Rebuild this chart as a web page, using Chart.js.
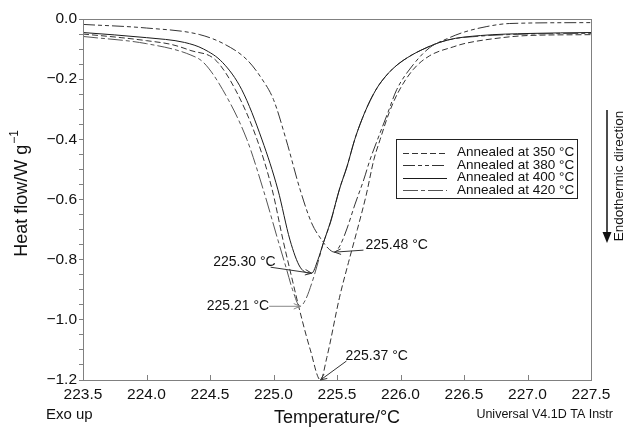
<!DOCTYPE html>
<html>
<head>
<meta charset="utf-8">
<script src="https://cdn.jsdelivr.net/npm/chart.js@4.4.1/dist/chart.umd.min.js"></script>
<style>
  html, body { margin: 0; padding: 0; background: #fff; }
  canvas { display: block; }
</style>
</head>
<body>
<canvas id="dscChart" width="627" height="429"></canvas>
<script>
// temperature (°C) and heat flow (W/g)
const t350 = [223.5, 223.8, 224.0, 224.2, 224.35, 224.54, 224.7, 224.87, 224.99, 225.075, 225.13, 225.225, 225.29, 225.37, 225.42, 225.52, 225.59, 225.66, 225.73, 225.79, 225.84, 225.91, 225.98, 226.1, 226.23, 226.42, 226.5, 226.8, 227.0, 227.5];
const hf350 = [-0.05, -0.062, -0.072, -0.085, -0.105, -0.135, -0.235, -0.40, -0.568, -0.735, -0.835, -1.0, -1.10, -1.20, -1.125, -0.925, -0.81, -0.70, -0.585, -0.468, -0.40, -0.312, -0.245, -0.168, -0.122, -0.092, -0.082, -0.062, -0.055, -0.052];

const t380 = [223.5, 224.0, 224.42, 224.62, 224.79, 224.91, 225.0, 225.1, 225.21, 225.3, 225.38, 225.43, 225.48, 225.525, 225.58, 225.64, 225.71, 225.76, 225.82, 225.9, 225.97, 226.1, 226.23, 226.37, 226.49, 226.68, 226.86, 227.5];
const hf380 = [-0.018, -0.03, -0.052, -0.085, -0.135, -0.20, -0.268, -0.402, -0.568, -0.678, -0.735, -0.762, -0.775, -0.752, -0.695, -0.618, -0.535, -0.468, -0.40, -0.312, -0.235, -0.152, -0.095, -0.065, -0.045, -0.025, -0.015, -0.012];

const t400 = [223.5, 224.0, 224.3, 224.45, 224.6, 224.75, 224.91, 225.035, 225.13, 225.21, 225.30, 225.35, 225.39, 225.45, 225.52, 225.58, 225.64, 225.70, 225.76, 225.82, 225.88, 225.94, 226.02, 226.16, 226.37, 226.63, 227.02, 227.5];
const hf400 = [-0.045, -0.062, -0.078, -0.10, -0.145, -0.235, -0.402, -0.568, -0.735, -0.825, -0.845, -0.80, -0.748, -0.672, -0.565, -0.489, -0.40, -0.33, -0.272, -0.226, -0.192, -0.165, -0.138, -0.104, -0.07, -0.055, -0.048, -0.045];

const t420 = [223.5, 224.0, 224.35, 224.45, 224.6, 224.79, 224.92, 225.035, 225.105, 225.15, 225.21, 225.25, 225.30, 225.35, 225.39, 225.45, 225.52, 225.58, 225.64, 225.70, 225.76, 225.82, 225.88, 225.94, 226.02, 226.16, 226.37, 226.63, 227.02, 227.5];
const hf420 = [-0.058, -0.082, -0.12, -0.145, -0.235, -0.40, -0.568, -0.735, -0.835, -0.90, -0.955, -0.935, -0.88, -0.81, -0.748, -0.675, -0.565, -0.489, -0.40, -0.33, -0.272, -0.226, -0.192, -0.165, -0.138, -0.104, -0.07, -0.057, -0.05, -0.048];

const seriesNames = ['Annealed at 350 °C', 'Annealed at 380 °C', 'Annealed at 400 °C', 'Annealed at 420 °C'];

// peak annotations
const peakLabels = ['225.48 °C', '225.30 °C', '225.21 °C', '225.37 °C'];
const peakT = [225.48, 225.30, 225.21, 225.37];
const peakHF = [-0.775, -0.845, -0.955, -1.2];

const FONT = "'Liberation Sans', Arial, Helvetica, sans-serif";
Chart.defaults.font.family = FONT;

function pts(xs, ys) {
  return xs.map((x, i) => ({ x: x, y: ys[i] }));
}

function line(label, xs, ys, color, dash) {
  return {
    label: label,
    data: pts(xs, ys),
    borderColor: color,
    borderWidth: 1,
    borderDash: dash,
    pointRadius: 0,
    fill: false,
    cubicInterpolationMode: 'monotone'
  };
}

function arrowHead(ctx, x1, y1, x2, y2, len) {
  const a = Math.atan2(y2 - y1, x2 - x1);
  ctx.beginPath();
  ctx.moveTo(x2 - len * Math.cos(a - 0.4), y2 - len * Math.sin(a - 0.4));
  ctx.lineTo(x2, y2);
  ctx.lineTo(x2 - len * Math.cos(a + 0.4), y2 - len * Math.sin(a + 0.4));
  ctx.stroke();
}

// pixel offsets of arrow tail and label relative to each peak
const annoLayout = [
  { tail: [29, -2], text: [31, -7], align: 'left', color: '#333' },
  { tail: [-41, -6], text: [-36, -11], align: 'right', color: '#333' },
  { tail: [-31, 0], text: [-31, 0], align: 'right', color: '#888' },
  { tail: [26, -19], text: [25, -24], align: 'left', color: '#333' }
];

const decor = {
  id: 'decor',
  afterDraw(chart) {
    const ctx = chart.ctx;
    const a = chart.chartArea;
    const xs = chart.scales.x;
    const ys = chart.scales.y;
    ctx.save();

    // frame
    ctx.strokeStyle = '#808080';
    ctx.lineWidth = 1;
    ctx.strokeRect(Math.round(a.left) + 0.5, Math.round(a.top) + 0.5, Math.round(a.right - a.left), Math.round(a.bottom - a.top));

    // inward x ticks
    ctx.beginPath();
    xs.ticks.forEach(t => {
      const px = Math.round(xs.getPixelForValue(t.value)) + 0.5;
      ctx.moveTo(px, a.bottom);
      ctx.lineTo(px, a.bottom - 5);
    });
    ctx.stroke();

    ctx.fillStyle = '#111';
    // y title with superscript
    ctx.save();
    ctx.translate(22, 194);
    ctx.rotate(-Math.PI / 2);
    const main = 'Heat flow/W g';
    ctx.font = '18px ' + FONT;
    const w1 = ctx.measureText(main).width;
    ctx.font = '12px ' + FONT;
    const w2 = ctx.measureText('\u22121').width;
    ctx.textBaseline = 'middle';
    ctx.textAlign = 'left';
    ctx.font = '18px ' + FONT;
    ctx.fillText(main, -(w1 + w2) / 2, 0);
    ctx.font = '12px ' + FONT;
    ctx.fillText('\u22121', -(w1 + w2) / 2 + w1 + 1, -7);
    ctx.restore();

    // x title and corner notes
    ctx.textBaseline = 'alphabetic';
    ctx.textAlign = 'center';
    ctx.font = '18px ' + FONT;
    ctx.fillText('Temperature/°C', (a.left + a.right) / 2, 423);
    ctx.textAlign = 'left';
    ctx.font = '15px ' + FONT;
    ctx.fillText('Exo up', 46, 419);
    ctx.textAlign = 'right';
    ctx.font = '12.5px ' + FONT;
    ctx.fillText('Universal V4.1D TA Instr', 613, 418);

    // endothermic direction arrow
    ctx.strokeStyle = '#111';
    ctx.lineWidth = 1.5;
    ctx.beginPath();
    ctx.moveTo(607, 110);
    ctx.lineTo(607, 234);
    ctx.stroke();
    ctx.beginPath();
    ctx.moveTo(602.5, 232);
    ctx.lineTo(611.5, 232);
    ctx.lineTo(607, 243);
    ctx.closePath();
    ctx.fill();
    ctx.save();
    ctx.translate(619, 176);
    ctx.rotate(-Math.PI / 2);
    ctx.textAlign = 'center';
    ctx.textBaseline = 'middle';
    ctx.font = '13.5px ' + FONT;
    ctx.fillText('Endothermic direction', 0, 0);
    ctx.restore();

    // legend
    ctx.lineWidth = 1;
    ctx.strokeStyle = '#222';
    ctx.strokeRect(396.5, 139.5, 181, 59);
    chart.data.datasets.forEach((ds, i) => {
      const y = 152.5 + i * 12.6;
      ctx.strokeStyle = ds.borderColor;
      ctx.setLineDash(ds.borderDash || []);
      ctx.beginPath();
      ctx.moveTo(403, Math.round(y) + 0.5);
      ctx.lineTo(447, Math.round(y) + 0.5);
      ctx.stroke();
      ctx.setLineDash([]);
      ctx.fillStyle = '#111';
      ctx.textAlign = 'left';
      ctx.textBaseline = 'middle';
      ctx.font = '13.5px ' + FONT;
      ctx.fillText(ds.label, 457, y);
    });

    // peak annotations
    ctx.font = '14px ' + FONT;
    ctx.textBaseline = 'middle';
    peakLabels.forEach((lab, i) => {
      const L = annoLayout[i];
      const tx = xs.getPixelForValue(peakT[i]);
      const ty = ys.getPixelForValue(peakHF[i]);
      ctx.strokeStyle = L.color;
      ctx.lineWidth = 1;
      ctx.beginPath();
      ctx.moveTo(tx + L.tail[0], ty + L.tail[1]);
      ctx.lineTo(tx, ty);
      ctx.stroke();
      arrowHead(ctx, tx + L.tail[0], ty + L.tail[1], tx, ty, 7);
      ctx.fillStyle = '#111';
      ctx.textAlign = L.align;
      ctx.fillText(lab, tx + L.text[0], ty + L.text[1]);
    });

    ctx.restore();
  }
};

const ctx = document.getElementById('dscChart').getContext('2d');
new Chart(ctx, {
  type: 'line',
  data: {
    datasets: [
      line(seriesNames[0], t350, hf350, '#333', [6, 3]),
      line(seriesNames[1], t380, hf380, '#333', [12, 3, 4, 3, 4, 3]),
      line(seriesNames[2], t400, hf400, '#1a1a1a', []),
      line(seriesNames[3], t420, hf420, '#555', [15, 3, 4, 3])
    ]
  },
  options: {
    responsive: false,
    animation: false,
    events: [],
    layout: { padding: { left: 0, right: 36, top: 19, bottom: 0 } },
    plugins: {
      legend: { display: false },
      tooltip: { enabled: false }
    },
    scales: {
      x: {
        type: 'linear',
        min: 223.5,
        max: 227.5,
        ticks: {
          stepSize: 0.5,
          autoSkip: false,
          maxRotation: 0,
          padding: 5,
          color: '#111',
          font: { size: 15.5 },
          callback: v => v.toFixed(1)
        },
        grid: { drawOnChartArea: false, drawTicks: false },
        border: { color: '#808080' },
        afterFit: s => { s.height = 49; }
      },
      y: {
        min: -1.2,
        max: 0,
        ticks: {
          stepSize: 0.05,
          autoSkip: false,
          padding: 2,
          color: '#111',
          font: { size: 15.5 },
          callback: v => {
            const k = Math.round(v * 20);
            if (k % 4 !== 0) return '';
            return k === 0 ? '0.0' : '\u2212' + (Math.abs(k) / 20).toFixed(1);
          }
        },
        grid: { drawOnChartArea: false, tickLength: 4, color: '#808080' },
        border: { color: '#808080' },
        afterFit: s => { s.width = 83; }
      }
    }
  },
  plugins: [decor]
});
</script>
</body>
</html>
